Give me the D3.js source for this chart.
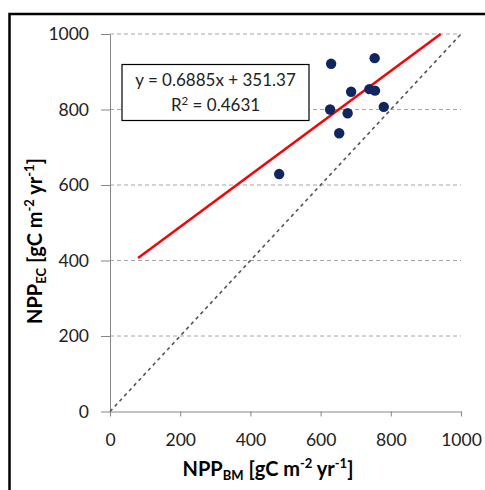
<!DOCTYPE html>
<html lang="en">
<head>
    <meta charset="UTF-8">
    <title>NPP EC vs BM</title>
    <script src="https://d3js.org/d3.v7.min.js"></script>
    <style>
        body { margin: 0; background: #fff; }
        text { font-family: Lato, "Open Sans", sans-serif; }
    </style>
</head>
<body>
    <svg class="chart"></svg>

    <script>
        // data
        const nppBM = [630, 754, 687, 739, 755, 627, 677, 780, 653, 482];
        const nppEC = [921, 936, 847, 854, 850, 800, 790, 807, 737, 629];
        const fitSlope = 0.6885;
        const fitIntercept = 351.37;
        const fitR2 = 0.4631;
        const fitFrom = 80;
        const xTicks = [0, 200, 400, 600, 800, 1000];
        const yTicks = [0, 200, 400, 600, 800, 1000];

        const svg = d3.select('.chart')
            .attr('width', 485)
            .attr('height', 490);

        // outer frame (only top and left visible in the crop)
        svg.append('path')
            .attr('d', 'M9.5,490 L9.5,14 L485,14')
            .attr('fill', 'none')
            .attr('stroke', '#000')
            .attr('stroke-width', 2.5);

        const x = d3.scaleLinear().domain([0, 1000]).range([110, 461]);
        const y = d3.scaleLinear().domain([0, 1000]).range([411.5, 34]);

        // gridlines
        svg.append('g')
            .selectAll('line')
            .data(yTicks.filter(d => d > 0))
            .enter()
            .append('line')
            .attr('x1', x(0))
            .attr('x2', x(1000))
            .attr('y1', d => y(d))
            .attr('y2', d => y(d))
            .attr('stroke', '#a6a6a6')
            .attr('stroke-width', 1)
            .attr('stroke-dasharray', '4,3');

        // x axis
        const xAxis = svg.append('g')
            .attr('transform', `translate(0,${y(0)})`)
            .call(d3.axisBottom(x).tickValues(xTicks).tickFormat(d3.format('d'))
                .tickSize(5).tickPadding(17).tickSizeOuter(0));
        xAxis.select('.domain').attr('stroke', '#868686');
        xAxis.selectAll('.tick line').attr('stroke', '#868686');
        xAxis.selectAll('.tick text')
            .attr('font-size', 17.5)
            .attr('fill', '#222')
            .style('font-family', 'Lato, sans-serif');

        // y axis
        const yAxis = svg.append('g')
            .attr('transform', `translate(${x(0)},0)`)
            .call(d3.axisLeft(y).tickValues(yTicks).tickFormat(d3.format('d'))
                .tickSize(9).tickPadding(12).tickSizeOuter(0));
        yAxis.select('.domain').attr('stroke', '#868686');
        yAxis.selectAll('.tick line').attr('stroke', '#868686');
        yAxis.selectAll('.tick text')
            .attr('font-size', 17.5)
            .attr('fill', '#222')
            .style('font-family', 'Lato, sans-serif');

        // 1:1 line
        svg.append('line')
            .attr('x1', x(0)).attr('y1', y(0))
            .attr('x2', x(1000)).attr('y2', y(1000))
            .attr('stroke', '#555')
            .attr('stroke-width', 1.6)
            .attr('stroke-dasharray', '3.5,3.5');

        // regression line, stops where it meets the top of the plot
        const fitTo = (1000 - fitIntercept) / fitSlope;
        svg.append('line')
            .attr('x1', x(fitFrom)).attr('y1', y(fitSlope * fitFrom + fitIntercept))
            .attr('x2', x(fitTo)).attr('y2', y(fitSlope * fitTo + fitIntercept))
            .attr('stroke', '#ff0000')
            .attr('stroke-width', 2.5);

        // points
        svg.append('g')
            .selectAll('circle')
            .data(nppBM.map((d, i) => [d, nppEC[i]]))
            .enter()
            .append('circle')
            .attr('cx', d => x(d[0]))
            .attr('cy', d => y(d[1]))
            .attr('r', 5.2)
            .attr('fill', '#0f2660');

        // equation box
        const box = svg.append('g');
        box.append('rect')
            .attr('x', 122).attr('y', 64.5)
            .attr('width', 187).attr('height', 56)
            .attr('fill', '#fff')
            .attr('stroke', '#000')
            .attr('stroke-width', 1.2);
        box.append('text')
            .attr('x', 215.5).attr('y', 86)
            .attr('text-anchor', 'middle')
            .attr('font-size', 17)
            .attr('fill', '#222')
            .text(`y = ${fitSlope}x + ${fitIntercept}`);
        const r2 = box.append('text')
            .attr('x', 215.5).attr('y', 111)
            .attr('text-anchor', 'middle')
            .attr('font-size', 17)
            .attr('fill', '#222');
        r2.append('tspan').text('R');
        r2.append('tspan').attr('dy', -6).attr('font-size', 11.5).text('2');
        r2.append('tspan').attr('dy', 6).text(` = ${fitR2}`);

        // axis titles
        function axisTitle(sel, sub) {
            sel.attr('font-size', 20).attr('font-weight', 'bold').attr('fill', '#000');
            sel.append('tspan').text('NPP');
            sel.append('tspan').attr('font-size', 13).attr('dy', 4).text(sub);
            sel.append('tspan').attr('dy', -4).text(' [gC m');
            sel.append('tspan').attr('font-size', 13).attr('dy', -8).text('-2');
            sel.append('tspan').attr('dy', 8).text(' yr');
            sel.append('tspan').attr('font-size', 13).attr('dy', -8).text('-1');
            sel.append('tspan').attr('dy', 8).text(']');
        }

        axisTitle(svg.append('text')
            .attr('x', 268).attr('y', 475.5)
            .attr('text-anchor', 'middle'), 'BM');

        axisTitle(svg.append('text')
            .attr('transform', 'translate(42,241) rotate(-90)')
            .attr('text-anchor', 'middle'), 'EC');
    </script>
</body>
</html>
